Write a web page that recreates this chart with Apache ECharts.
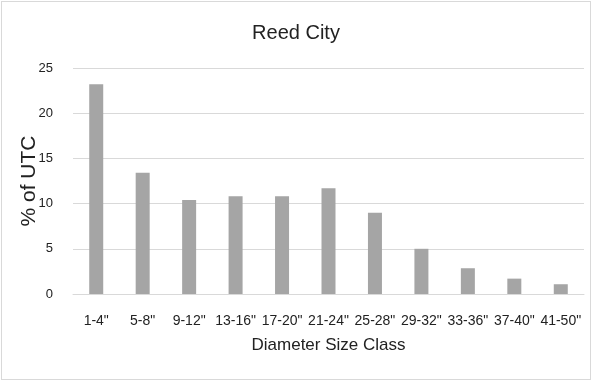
<!DOCTYPE html>
<html lang="en">
<head>
    <meta charset="UTF-8">
    <title>Reed City</title>
    <script src="https://cdn.jsdelivr.net/npm/echarts@6/dist/echarts.min.js"></script>
    <style>
        html, body { margin: 0; padding: 0; background: #fff; }
        #main { position: absolute; left: 1px; top: 1px; width: 588px; height: 377px; border: 1px solid #d9d9d9; }
    </style>
</head>
<body>
<div id="main"></div>
<script>
    // 直径分类
    var categories = ['1-4"', '5-8"', '9-12"', '13-16"', '17-20"', '21-24"', '25-28"', '29-32"', '33-36"', '37-40"', '41-50"'];
    // % of UTC
    var utcPercent = [23.2, 13.4, 10.4, 10.8, 10.8, 11.7, 9.0, 5.0, 2.85, 1.7, 1.08];

    var font = '"Liberation Sans", Arial, sans-serif';
    var myChart = echarts.init(document.getElementById('main'));

    var option = {
        animation: false,
        title: {
            text: 'Reed City',
            left: 'center',
            top: 16,
            textStyle: { fontFamily: font, fontSize: 20, fontWeight: 'normal', color: '#222' }
        },
        grid: { left: 71, right: 6, top: 66, bottom: 85, outerBoundsMode: 'none' },
        xAxis: {
            type: 'category',
            data: categories,
            name: 'Diameter Size Class',
            nameLocation: 'middle',
            nameGap: 43,
            nameMoveOverlap: false,
            nameTextStyle: { fontFamily: font, fontSize: 17, color: '#222' },
            axisTick: { show: false },
            axisLine: { lineStyle: { color: '#d9d9d9' } },
            axisLabel: { interval: 0, fontFamily: font, fontSize: 14, color: '#222', margin: 20 }
        },
        yAxis: {
            type: 'value',
            min: 0,
            max: 25,
            interval: 5,
            name: '% of UTC',
            nameLocation: 'middle',
            nameGap: 33,
            nameMoveOverlap: false,
            nameTextStyle: { fontFamily: font, fontSize: 21, color: '#222' },
            axisLabel: { fontFamily: font, fontSize: 13, color: '#222', margin: 20 },
            splitLine: { lineStyle: { color: '#d9d9d9' } }
        },
        series: [{
            type: 'bar',
            data: utcPercent,
            barWidth: 14,
            itemStyle: { color: '#a5a5a5' }
        }]
    };
    myChart.setOption(option);
</script>
</body>
</html>
